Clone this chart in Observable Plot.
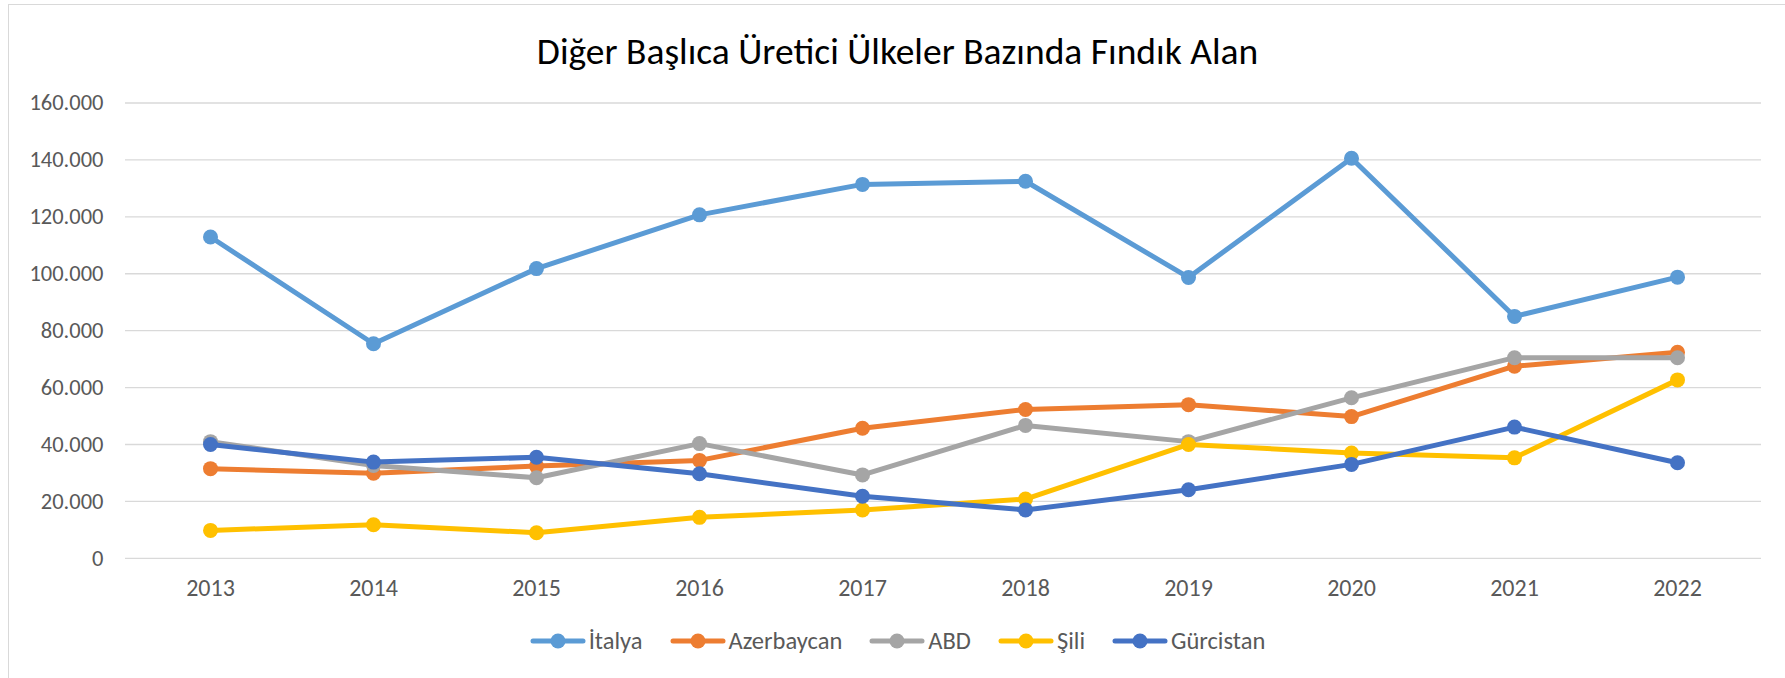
<!DOCTYPE html>
<html><head><meta charset="utf-8">
<script src="https://cdn.jsdelivr.net/npm/d3@7"></script>
<script src="https://cdn.jsdelivr.net/npm/@observablehq/plot@0.6"></script>
<style>
html,body{margin:0;padding:0;background:#fff;}
body{width:1785px;height:678px;overflow:hidden;position:relative;font-family:Carlito,Calibri,Lato,"Open Sans",sans-serif;}
#frame{position:absolute;left:8px;top:4px;width:1800px;height:700px;border:1px solid #d9d9d9;box-sizing:border-box;}
#title{position:absolute;left:8px;width:1779px;top:29px;line-height:44px;font-size:37.5px;color:#000;text-align:center;}
#chart{position:absolute;left:0;top:85px;}
#legend{position:absolute;left:8px;width:1779px;top:620px;height:42px;display:flex;justify-content:center;align-items:center;gap:27px;font-size:24.5px;color:#595959;}
.item{display:flex;align-items:center;gap:3px;}
</style></head>
<body>
<div id="frame"></div>
<div id="title">Diğer Başlıca Üretici Ülkeler Bazında Fındık Alan</div>
<div id="chart"></div>
<div id="legend"></div>
<script>
const years = ["2013","2014","2015","2016","2017","2018","2019","2020","2021","2022"];
const italya     = [112900, 75400, 101800, 120700, 131400, 132500, 98700, 140600, 85000, 98800];
const azerbaycan = [31500, 29900, 32400, 34400, 45700, 52300, 54000, 49800, 67500, 72400];
const abd        = [41000, 32600, 28300, 40300, 29300, 46700, 41000, 56400, 70500, 70500];
const sili       = [9800, 11800, 9000, 14400, 17000, 20800, 40000, 37000, 35300, 62700];
const gurcistan  = [40000, 33800, 35500, 29700, 21800, 17000, 24100, 33000, 46100, 33600];
const seriesNames  = ["İtalya", "Azerbaycan", "ABD", "Şili", "Gürcistan"];
const seriesValues = [italya, azerbaycan, abd, sili, gurcistan];
const seriesColors = ["#5B9BD5", "#ED7D31", "#A5A5A5", "#FFC000", "#4472C4"];
const yTickValues = [0, 20000, 40000, 60000, 80000, 100000, 120000, 140000, 160000];
const yTickLabels = ["0", "20.000", "40.000", "60.000", "80.000", "100.000", "120.000", "140.000", "160.000"];

const font = getComputedStyle(document.body).fontFamily;
const seriesMarks = [];
seriesNames.forEach((name, k) => {
  const data = years.map((yr, i) => ({year: yr, value: seriesValues[k][i], series: name}));
  seriesMarks.push(Plot.line(data, {x: "year", y: "value", stroke: seriesColors[k], strokeWidth: 5, strokeLinejoin: "round", strokeLinecap: "round"}));
  seriesMarks.push(Plot.dot(data, {x: "year", y: "value", fill: seriesColors[k], r: 7.5}));
});

const chart = Plot.plot({
  width: 1785, height: 530,
  marginLeft: 125, marginRight: 24, marginTop: 17.5, marginBottom: 57.2,
  style: {fontFamily: font, fontSize: "24px", color: "#595959", background: "transparent", overflow: "visible"},
  x: {type: "point", domain: years, padding: 0.5, label: null},
  y: {domain: [0, 160000], label: null},
  marks: [
    Plot.ruleY(yTickValues, {stroke: "#d9d9d9", strokeWidth: 1.3}),
    Plot.axisY({ticks: yTickValues, tickFormat: d => yTickLabels[yTickValues.indexOf(d)], tickSize: 0, tickPadding: 22, fontSize: 22.5, label: null}),
    Plot.axisX({tickSize: 0, tickPadding: 21, fontSize: 24, label: null}),
    ...seriesMarks
  ]
});
document.getElementById("chart").appendChild(chart);

const legend = document.getElementById("legend");
seriesNames.forEach((name, k) => {
  const item = document.createElement("div");
  item.className = "item";
  item.innerHTML = `<svg width="56" height="18"><line x1="3" y1="9" x2="53" y2="9" stroke="${seriesColors[k]}" stroke-width="5" stroke-linecap="round"/><circle cx="28" cy="9" r="7.5" fill="${seriesColors[k]}"/></svg><span>${name}</span>`;
  legend.appendChild(item);
});
</script>
</body></html>
